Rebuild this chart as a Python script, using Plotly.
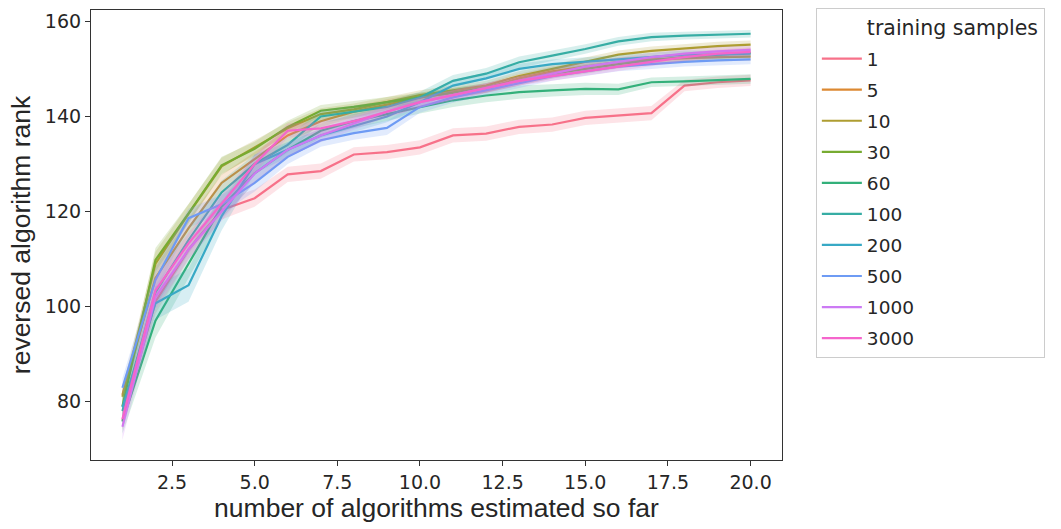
import plotly.graph_objects as go

x_steps = list(range(1, 21))
sample_labels = ["1", "5", "10", "30", "60", "100", "200", "500", "1000", "3000"]
colors = ["#f77189", "#dc8932", "#ae9d31", "#77ab31", "#33b07a",
          "#36ada4", "#38a9c5", "#6e9bf4", "#cc7af4", "#f565cc"]

rank_1 = [76.0, 101.0, 112.0, 120.3, 122.8, 127.8, 128.5, 132.0, 132.5, 133.5,
          136.0, 136.4, 137.8, 138.3, 139.7, 140.2, 140.7, 146.5, 147.2, 147.6]
rank_5 = [81.4, 106.0, 116.5, 126.0, 131.0, 136.0, 139.0, 141.0, 142.5, 144.0,
          145.0, 146.0, 148.0, 149.5, 150.5, 151.5, 152.0, 152.3, 152.5, 152.6]
rank_10 = [81.0, 109.0, 119.5, 129.5, 133.5, 137.5, 140.5, 141.5, 143.0, 144.5,
           145.5, 146.5, 148.5, 150.0, 151.5, 153.0, 153.8, 154.3, 154.8, 155.1]
rank_30 = [79.0, 109.8, 119.6, 129.7, 133.2, 137.8, 141.2, 142.0, 143.0, 144.0,
           145.0, 146.0, 147.5, 149.0, 150.0, 151.0, 151.8, 152.5, 153.0, 153.4]
rank_60 = [75.8, 97.0, 109.0, 121.0, 128.0, 133.0, 137.0, 139.0, 140.5, 142.0,
           143.4, 144.4, 145.1, 145.5, 145.8, 145.7, 147.2, 147.4, 147.7, 147.9]
rank_100 = [78.0, 103.0, 114.0, 124.0, 130.0, 134.0, 140.0, 141.0, 142.0, 144.0,
            147.5, 149.0, 151.4, 152.8, 154.2, 155.8, 156.7, 157.0, 157.2, 157.4]
rank_200 = [78.8, 100.7, 104.5, 119.0, 130.0, 133.0, 136.0, 138.0, 140.0, 143.0,
            146.5, 148.0, 150.0, 151.0, 151.5, 152.0, 152.5, 153.0, 153.0, 153.2]
rank_500 = [82.9, 105.6, 118.6, 121.5, 126.0, 131.5, 135.0, 136.5, 137.6, 142.0,
            144.0, 145.5, 147.0, 148.5, 149.5, 150.5, 151.0, 151.5, 151.8, 152.0]
rank_1000 = [74.7, 102.0, 112.0, 120.0, 128.0, 133.0, 136.0, 138.5, 141.0, 143.0,
             144.5, 146.0, 147.5, 149.0, 150.5, 151.5, 152.5, 153.2, 153.7, 154.0]
rank_3000 = [76.3, 103.4, 113.3, 121.7, 130.0, 137.0, 137.5, 139.0, 141.0, 143.0,
             144.5, 146.0, 147.5, 148.5, 149.5, 150.5, 151.5, 152.5, 153.2, 153.6]

# confidence-interval half widths
ci_1 = [2.0, 2.5, 2.0, 2.0, 1.8, 1.6, 1.6, 1.5, 1.5, 1.5,
        1.5, 1.5, 1.5, 1.5, 1.5, 1.5, 1.5, 1.2, 1.2, 1.2]
ci_5 = [1.8, 2.5, 2.0, 1.8, 1.5, 1.3, 1.2, 1.2, 1.1, 1.0,
        1.0, 1.0, 1.0, 1.0, 1.0, 0.9, 0.9, 0.9, 0.9, 0.9]
ci_10 = [1.8, 2.5, 2.0, 1.8, 1.5, 1.3, 1.2, 1.2, 1.1, 1.0,
         1.0, 1.0, 1.0, 1.0, 1.0, 0.9, 0.9, 0.9, 0.9, 0.9]
ci_30 = [1.8, 2.5, 2.0, 1.8, 1.5, 1.3, 1.2, 1.2, 1.1, 1.0,
         1.0, 1.0, 1.0, 1.0, 1.0, 0.9, 0.9, 0.9, 0.9, 0.9]
ci_60 = [2.5, 3.5, 3.0, 2.5, 2.0, 1.6, 1.5, 1.5, 1.4, 1.4,
         1.4, 1.4, 1.4, 1.3, 1.3, 1.2, 1.0, 1.0, 1.0, 1.0]
ci_100 = [2.0, 3.0, 2.8, 2.5, 2.0, 1.6, 1.4, 1.3, 1.2, 1.2,
          1.2, 1.2, 1.2, 1.1, 1.0, 0.9, 0.9, 0.8, 0.8, 0.8]
ci_200 = [2.0, 3.5, 3.5, 3.0, 2.0, 1.6, 1.4, 1.3, 1.2, 1.2,
          1.2, 1.2, 1.1, 1.0, 1.0, 0.9, 0.9, 0.9, 0.9, 0.9]
ci_500 = [2.0, 2.5, 2.0, 2.0, 1.8, 1.5, 1.4, 1.4, 1.5, 1.2,
          1.1, 1.0, 1.0, 1.0, 1.0, 1.0, 1.0, 1.0, 1.0, 1.0]
ci_1000 = [2.8, 2.5, 2.2, 2.0, 1.8, 1.5, 1.4, 1.3, 1.2, 1.1,
           1.0, 1.0, 1.0, 1.0, 1.0, 0.9, 0.9, 0.9, 0.9, 0.9]
ci_3000 = [2.0, 2.5, 2.2, 2.0, 1.8, 1.5, 1.4, 1.3, 1.2, 1.1,
           1.0, 1.0, 1.0, 1.0, 1.0, 0.9, 0.9, 0.9, 0.9, 0.9]

series = [rank_1, rank_5, rank_10, rank_30, rank_60,
          rank_100, rank_200, rank_500, rank_1000, rank_3000]
cis = [ci_1, ci_5, ci_10, ci_30, ci_60, ci_100, ci_200, ci_500, ci_1000, ci_3000]


def rgba(hex_color, a):
    h = hex_color.lstrip("#")
    r, g, b = int(h[0:2], 16), int(h[2:4], 16), int(h[4:6], 16)
    return f"rgba({r},{g},{b},{a})"


LABEL_FONT = dict(family="Liberation Sans, Arial, sans-serif",
                  size=26.5, color="#262626")

fig = go.Figure()

# invisible legend entry acting as title (seaborn style)
fig.add_trace(go.Scatter(x=[None], y=[None], mode="lines",
                         name='<span style="font-size:20.5px">training samples</span>',
                         line=dict(color="rgba(0,0,0,0)", width=2.2),
                         legendgroup="title", hoverinfo="skip"))

for lab, col, ys, ci in zip(sample_labels, colors, series, cis):
    upper = [v + c for v, c in zip(ys, ci)]
    lower = [v - c for v, c in zip(ys, ci)]
    fig.add_trace(go.Scatter(
        x=x_steps + x_steps[::-1], y=upper + lower[::-1],
        fill="toself", fillcolor=rgba(col, 0.2), line=dict(width=0),
        mode="lines", showlegend=False, hoverinfo="skip", legendgroup=lab))
    fig.add_trace(go.Scatter(
        x=x_steps, y=ys, mode="lines", name=lab,
        line=dict(color=col, width=2.2), legendgroup=lab))

axis_common = dict(
    showline=True, linecolor="#333333", linewidth=1.2, mirror=True,
    ticks="outside", ticklen=5, tickwidth=1.2, tickcolor="#333333",
    showgrid=False, zeroline=False,
    tickfont=dict(family="DejaVu Sans", size=19, color="#262626"),
)

fig.update_layout(
    width=1061, height=529,
    margin=dict(l=91, r=279, t=9, b=69),
    plot_bgcolor="white", paper_bgcolor="white",
    xaxis=dict(range=[0.05, 20.95], tickvals=[2.5, 5, 7.5, 10, 12.5, 15, 17.5, 20],
               tickformat=".1f",
               title=dict(text="number of algorithms estimated so far",
                          font=LABEL_FONT, standoff=4),
               **axis_common),
    yaxis=dict(range=[67.7, 162.4], tickvals=[80, 100, 120, 140, 160],
               title=dict(text="reversed algorithm rank",
                          font=LABEL_FONT, standoff=6),
               **axis_common),
    legend=dict(x=1.049, y=1.002, xanchor="left", yanchor="top",
                bordercolor="#cccccc", borderwidth=1, bgcolor="white",
                font=dict(family="DejaVu Sans", size=18.5, color="#262626"),
                tracegroupgap=4, itemwidth=40, maxheight=520),
    showlegend=True,
)

fig.write_html("out.html")
